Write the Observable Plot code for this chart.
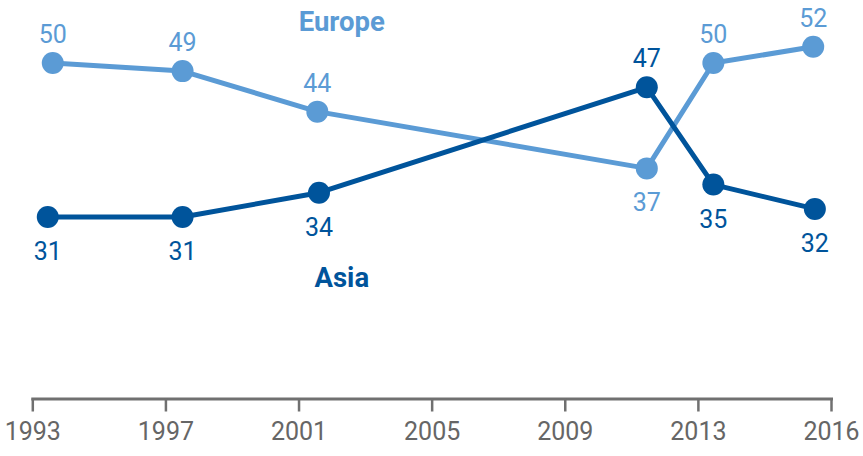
<!DOCTYPE html>
<html><head><meta charset="utf-8">
<script src="https://cdn.jsdelivr.net/npm/d3@7"></script>
<script src="https://cdn.jsdelivr.net/npm/@observablehq/plot@0.6"></script>
<style>body{margin:0;background:#fff;overflow:hidden}</style>
</head><body><div id="chart"></div>
<script>
const seriesNames = ["Europe", "Asia"];
const europeYears = [1993.6, 1997.5, 2001.55, 2011.45, 2013.45, 2016.45];
const europeValues = [50, 49, 44, 37, 50, 52];
const asiaYears = [1993.45, 1997.5, 2001.6, 2011.45, 2013.45, 2016.5];
const asiaValues = [31, 31, 34, 47, 35, 32];
const tickYears = [1993, 1997, 2001, 2005, 2009, 2013, 2017];
const tickLabels = ["1993", "1997", "2001", "2005", "2009", "2013", "2016"];
const colors = {Europe: "#5b9bd5", Asia: "#00549b"};

const rows = [];
europeYears.forEach((x, i) => rows.push({series: "Europe", x, v: europeValues[i], above: europeValues[i] >= asiaValues[i]}));
asiaYears.forEach((x, i) => rows.push({series: "Asia", x, v: asiaValues[i], above: asiaValues[i] > europeValues[i]}));

const chart = Plot.plot({
  width: 863,
  height: 456,
  marginTop: 0,
  marginBottom: 57.5,
  marginLeft: 32.3,
  marginRight: 32,
  x: {domain: [1993, 2017]},
  y: {domain: [8.55, 57.71], axis: null},
  style: {fontFamily: "Roboto, sans-serif", background: "#fff"},
  marks: [
    Plot.frame({anchor: "bottom", stroke: "#707070", strokeWidth: 3}),
    Plot.axisX({
      ticks: tickYears,
      tickFormat: d => tickLabels[tickYears.indexOf(d)],
      tickSize: 13,
      tickPadding: 10,
      fontSize: 25,
      stroke: "#707070",
      strokeWidth: 2.5,
      fill: "#666",
      label: null
    }),
    Plot.line(rows, {x: "x", y: "v", z: "series", stroke: d => colors[d.series], strokeWidth: 5}),
    Plot.dot(rows, {x: "x", y: "v", r: 11, fill: d => colors[d.series]}),
    Plot.text(rows.filter(d => d.above), {x: "x", y: "v", text: d => String(d.v), dy: -28, fontSize: 25, fill: d => colors[d.series]}),
    Plot.text(rows.filter(d => !d.above), {x: "x", y: "v", text: d => String(d.v), dy: 35, fontSize: 25, fill: d => colors[d.series]}),
    Plot.text([seriesNames[0]], {frameAnchor: "top-left", textAnchor: "middle", lineAnchor: "middle", dx: 309, dy: 22, fontSize: 27.5, fontWeight: "bold", fill: colors.Europe}),
    Plot.text([seriesNames[1]], {frameAnchor: "top-left", textAnchor: "middle", lineAnchor: "middle", dx: 309, dy: 278, fontSize: 27.5, fontWeight: "bold", fill: colors.Asia})
  ]
});
document.getElementById("chart").appendChild(chart);
</script>
</body></html>
